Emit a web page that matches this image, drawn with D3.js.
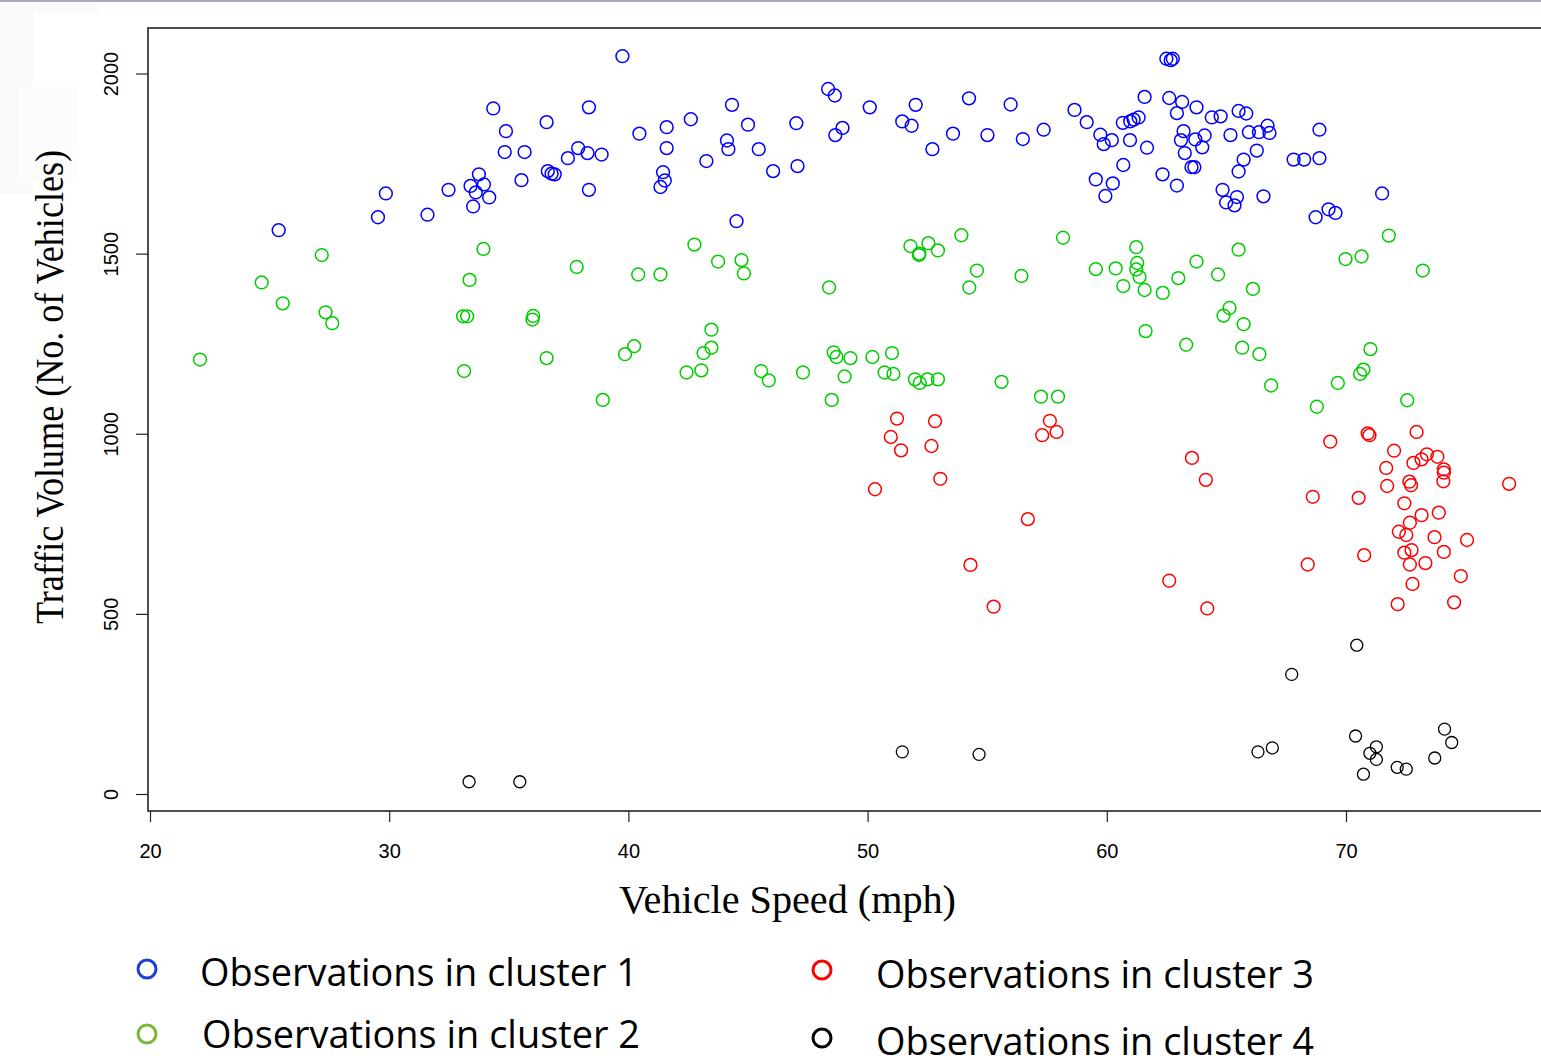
<!DOCTYPE html>
<html>
<head>
<meta charset="utf-8">
<script src="https://cdn.jsdelivr.net/npm/d3@7"></script>
<style>
  html, body { margin: 0; padding: 0; background: #fff; }
  svg { display: block; }
  .tick text { font-family: "Liberation Sans", Arial, sans-serif; fill: #000; }
</style>
</head>
<body>
<div id="chart"></div>
<script>
// [speed (mph), volume (vehicles)]
const cluster1 = [
  [34.35,1903],[36.58,1865],[34.88,1840],[34.83,1782],[35.66,1782],[36.63,1729],[36.79,1722],[36.92,1720],
  [35.53,1704],[33.75,1720],[33.40,1688],[33.96,1692],[33.62,1670],[34.18,1656],[33.51,1631],[32.48,1677],
  [29.86,1667],[29.53,1601],[31.60,1608],[25.38,1565],
  [39.75,2048],[38.35,1906],[37.90,1793],[38.29,1779],[37.47,1765],[38.88,1775],[38.35,1677],[40.46,1833],
  [41.60,1851],[41.60,1793],[42.61,1873],[41.45,1726],[41.52,1703],[41.34,1685],[43.26,1757],[44.33,1913],
  [45.00,1858],[44.12,1814],[44.18,1790],[45.45,1790],[46.05,1729],[44.52,1590],[47.02,1862],[47.07,1743],
  [48.35,1957],[48.63,1939],[48.95,1849],[48.65,1829],[50.09,1906],[52.01,1913],[51.45,1867],[51.84,1855],
  [52.71,1790],
  [62.49,2041],[62.67,2037],[62.76,2041],[54.24,1931],[55.98,1914],[53.57,1833],[55.01,1829],[56.49,1818],
  [57.36,1844],[58.65,1899],[59.16,1865],[59.73,1830],[59.87,1804],[60.21,1815],[60.67,1863],[60.98,1867],
  [61.12,1872],[61.33,1878],[60.97,1815],[61.58,1935],[61.68,1794],[60.69,1746],[59.54,1706],[60.25,1695],
  [59.94,1660],[62.61,1932],[63.15,1921],[62.93,1890],[63.75,1906],[64.39,1878],[64.76,1881],[63.21,1840],
  [63.10,1815],[63.70,1817],[64.09,1828],[63.99,1795],[63.26,1779],[63.54,1740],[63.66,1740],[62.33,1720],
  [62.93,1689],
  [65.51,1896],[65.83,1889],[65.17,1829],[65.94,1837],[66.36,1837],[66.72,1855],[66.80,1835],[68.89,1844],
  [66.27,1786],[65.72,1761],[65.51,1728],[67.81,1761],[68.25,1761],[68.89,1765],[64.84,1677],[64.99,1642],
  [65.44,1657],[65.34,1634],[66.55,1659],[71.51,1667],[68.73,1601],[69.27,1623],[69.56,1613]
];

const cluster2 = [
  [27.18,1496],[24.67,1420],[25.55,1362],[27.34,1337],[27.62,1307],[22.09,1206],[33.94,1513],[33.36,1427],
  [33.09,1326],[33.26,1326],[36.02,1327],[35.99,1317],[36.58,1210],[33.13,1174],
  [37.84,1463],[40.41,1442],[41.34,1442],[42.76,1525],[43.75,1478],[44.73,1482],[44.83,1445],[48.39,1406],
  [51.79,1521],[52.54,1529],[52.16,1500],[52.15,1496],[52.94,1509],[43.47,1289],[40.24,1243],[39.86,1221],
  [43.47,1239],[43.14,1224],[42.43,1170],[43.05,1176],[45.55,1174],[45.87,1148],[47.30,1170],[48.58,1226],
  [48.70,1213],[49.28,1210],[49.04,1159],[50.20,1213],[51.02,1224],[50.71,1170],[51.08,1166],[51.98,1151],
  [52.18,1141],[52.50,1151],[52.94,1151],[38.93,1094],[48.50,1094],
  [53.92,1551],[58.17,1544],[54.57,1453],[54.25,1406],[56.43,1438],[61.23,1518],[61.27,1474],[61.23,1456],
  [61.37,1435],[59.54,1457],[60.37,1459],[60.69,1410],[61.58,1399],[62.34,1391],[62.99,1432],[63.75,1478],
  [64.65,1442],[61.62,1285],[63.32,1247],[55.60,1144],[57.25,1103],[57.96,1103],
  [65.51,1511],[71.79,1550],[69.98,1485],[70.65,1492],[73.21,1453],[66.11,1402],[65.13,1349],[64.88,1328],
  [65.72,1304],[65.66,1239],[66.38,1221],[71.02,1235],[70.73,1178],[70.59,1166],[66.87,1134],[69.66,1141],
  [68.78,1075],[72.56,1093]
];

const cluster3 = [
  [51.23,1042],[52.82,1035],[50.97,991],[51.40,954],[52.67,966],[53.04,875],[50.31,846],[57.62,1036],
  [57.30,996],[57.90,1005],[56.70,763],[54.30,636],[55.27,520],[63.56,933],[64.14,872],[62.61,592],
  [64.20,515],
  [69.34,978],[70.91,1001],[70.98,996],[72.95,1005],[72.01,953],[72.82,919],[73.16,929],[73.38,943],
  [73.82,936],[74.09,901],[74.09,892],[74.07,868],[71.68,905],[71.72,855],[72.65,867],[72.72,857],
  [76.82,861],[68.61,825],[70.53,822],[72.44,807],[73.16,774],[73.88,781],[72.67,753],[72.21,728],
  [72.52,719],[73.70,713],[75.06,705],[72.44,670],[72.74,677],[74.09,672],[70.76,663],[72.67,637],
  [73.32,641],[68.40,637],[74.80,605],[72.78,583],[72.16,527],[74.52,532]
];

const cluster4 = [
  [33.34,34],[35.46,34],[51.45,117],[54.66,110],[70.45,413],[67.73,332],[66.32,117],[66.92,128],
  [70.40,161],[71.27,131],[71.00,113],[71.27,96],[70.73,55],[72.14,74],[72.52,69],[73.71,100],
  [74.12,180],[74.42,143]
];

const xTicks = [20, 30, 40, 50, 60, 70];
const yTicks = [0, 500, 1000, 1500, 2000];
const xTitle = 'Vehicle Speed (mph)';
const yTitle = 'Traffic Volume (No. of Vehicles)';
const legendLabels = ['Observations in cluster 1', 'Observations in cluster 2',
                      'Observations in cluster 3', 'Observations in cluster 4'];

const pointColors  = ['#0000ff', '#00cd00', '#ff0000', '#000000'];
const legendColors = ['#1f3fd6', '#78b83a', '#ff0000', '#000000'];

const width  = 1541;
const height = 1060;
const frame = { left: 148, top: 28, bottom: 811 };

const svg = d3.select('#chart').append('svg')
  .attr('width', width)
  .attr('height', height);

// faint remains of the screenshot around the top-left corner
svg.append('rect').attr('x', 0).attr('y', 0).attr('width', width).attr('height', 2).attr('fill', '#a9a9b9');
svg.append('rect').attr('x', 0).attr('y', 4).attr('width', 33).attr('height', 190).attr('fill', '#f9f9f9');
svg.append('rect').attr('x', 33).attr('y', 4).attr('width', 66).attr('height', 8).attr('fill', '#fafafa');
svg.append('rect').attr('x', 17).attr('y', 86).attr('width', 61).attr('height', 97).attr('fill', '#fcfcfc');

const x = d3.scaleLinear().domain([20, 70]).range([150, 1346]);
const y = d3.scaleLinear().domain([0, 2000]).range([794, 73.5]);

// plot box (runs off the right edge of the picture)
svg.append('rect')
  .attr('x', frame.left)
  .attr('y', frame.top)
  .attr('width', width - frame.left + 20)
  .attr('height', frame.bottom - frame.top)
  .attr('fill', 'none')
  .attr('stroke', '#222')
  .attr('stroke-width', 1.6);

const xAxis = d3.axisBottom(x).tickValues(xTicks).tickSize(11).tickFormat(d3.format('d'));
const yAxis = d3.axisLeft(y).tickValues(yTicks).tickSize(12).tickFormat(d3.format('d'));

const gx = svg.append('g')
  .attr('class', 'x axis')
  .attr('transform', 'translate(0,' + frame.bottom + ')')
  .call(xAxis);
gx.select('.domain').remove();
gx.selectAll('.tick line').attr('stroke', '#222').attr('stroke-width', 1.2);
gx.selectAll('.tick text')
  .attr('y', 47)
  .attr('dy', 0)
  .attr('font-size', 20);

const gy = svg.append('g')
  .attr('class', 'y axis')
  .attr('transform', 'translate(' + frame.left + ',0)')
  .call(yAxis);
gy.select('.domain').remove();
gy.selectAll('.tick line').attr('stroke', '#222').attr('stroke-width', 1.2);
gy.selectAll('.tick text')
  .attr('x', 0)
  .attr('dy', 0)
  .attr('text-anchor', 'middle')
  .attr('transform', 'translate(-30,0) rotate(-90)')
  .attr('font-size', 20);

// axis titles
svg.append('text')
  .attr('x', 619)
  .attr('y', 913)
  .attr('font-family', '"Liberation Serif", "Times New Roman", serif')
  .attr('font-size', 39)
  .attr('textLength', 337)
  .attr('lengthAdjust', 'spacingAndGlyphs')
  .text(xTitle);

svg.append('text')
  .attr('transform', 'translate(63,' + 624 + ') rotate(-90)')
  .attr('font-family', '"Liberation Serif", "Times New Roman", serif')
  .attr('font-size', 40)
  .attr('textLength', 474)
  .attr('lengthAdjust', 'spacingAndGlyphs')
  .text(yTitle);

// points
const clusters = [cluster1, cluster2, cluster3, cluster4];
const plot = svg.append('g').attr('class', 'points');

clusters.forEach(function(pts, i) {
  plot.selectAll('.c' + i)
    .data(pts)
    .enter()
    .append('circle')
    .attr('class', 'c' + i)
    .attr('cx', function(d) { return x(d[0]); })
    .attr('cy', function(d) { return y(d[1]); })
    .attr('r', i === 3 ? 6 : 6.4)
    .attr('fill', 'none')
    .attr('stroke', pointColors[i])
    .attr('stroke-width', i === 3 ? 1.3 : 1.5);
});

// legend, two columns
const legendPos = [
  { cx: 147, cy: 969, tx: 200, ty: 986 },
  { cx: 147, cy: 1034, tx: 202, ty: 1048 },
  { cx: 822, cy: 970, tx: 876, ty: 988 },
  { cx: 822, cy: 1038, tx: 876, ty: 1055 }
];

const legend = svg.append('g').attr('class', 'legend');
legendLabels.forEach(function(label, i) {
  const p = legendPos[i];
  legend.append('circle')
    .attr('cx', p.cx)
    .attr('cy', p.cy)
    .attr('r', 9)
    .attr('fill', 'none')
    .attr('stroke', legendColors[i])
    .attr('stroke-width', 3);
  legend.append('text')
    .attr('x', p.tx)
    .attr('y', p.ty)
    .attr('font-family', '"Open Sans", "Noto Sans", sans-serif')
    .attr('font-size', 38)
    .attr('textLength', 438)
    .attr('lengthAdjust', 'spacingAndGlyphs')
    .text(label);
});
</script>
</body>
</html>
